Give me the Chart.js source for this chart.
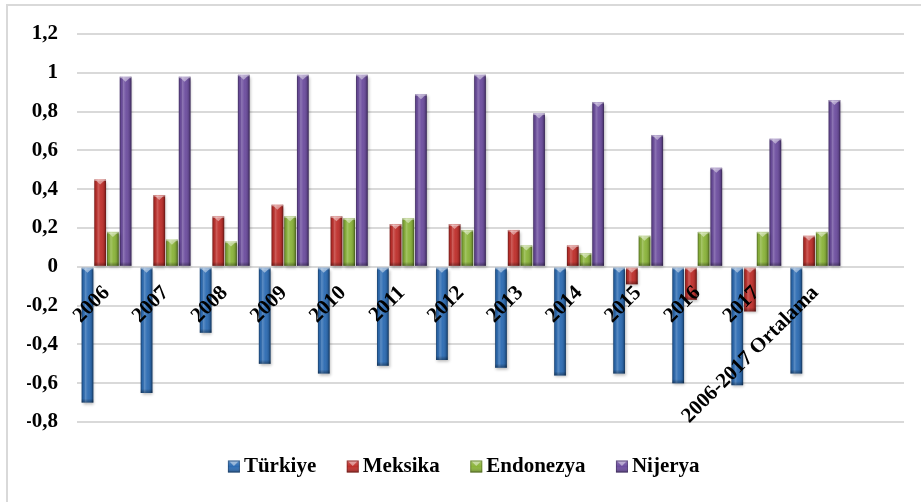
<!DOCTYPE html>
<html>
<head>
<meta charset="utf-8">
<script src="https://cdn.jsdelivr.net/npm/chart.js@4.4.1/dist/chart.umd.min.js"></script>
<style>
  html, body { margin: 0; padding: 0; background: #fff; }
  #wrap { position: relative; width: 921px; height: 502px; overflow: hidden; }
  #frame { position: absolute; left: 6px; top: 4px; width: 960px; height: 540px;
           border-left: 2px solid #d9d9d9; border-top: 2px solid #d9d9d9; }
  #grafik { position: absolute; left: 0; top: 0; }
</style>
</head>
<body>
<div id="wrap">
  <div id="frame"></div>
  <canvas id="grafik" width="921" height="502"></canvas>
</div>
<script>
// categories (the trailing empty one keeps the spare slot on the right)
const yillar = ['2006', '2007', '2008', '2009', '2010', '2011', '2012', '2013',
  '2014', '2015', '2016', '2017', '2006-2017 Ortalama', ''];

const turkiye   = [-0.70, -0.65, -0.34, -0.50, -0.55, -0.51, -0.48, -0.52, -0.56, -0.55, -0.60, -0.61, -0.55];
const meksika   = [0.45, 0.37, 0.26, 0.32, 0.26, 0.22, 0.22, 0.19, 0.11, -0.09, -0.17, -0.23, 0.16];
const endonezya = [0.18, 0.14, 0.13, 0.26, 0.25, 0.25, 0.19, 0.11, 0.07, 0.16, 0.18, 0.18, 0.18];
const nijerya   = [0.98, 0.98, 0.99, 0.99, 0.99, 0.89, 0.99, 0.79, 0.85, 0.68, 0.51, 0.66, 0.86];

const ulkeler = ['Türkiye', 'Meksika', 'Endonezya', 'Nijerya'];
const renkler = ['#2d6cb3', '#bf302c', '#8bb43b', '#6d4e9f'];

const yEtiketleri = ['-0,8', '-0,6', '-0,4', '-0,2', '0', '0,2', '0,4', '0,6', '0,8', '1', '1,2'];

const yazi = { family: 'Liberation Serif', size: 21, weight: 'bold' };

// shaded "glass" look for one bar rectangle
function bevel(c, left, top, w, h) {
  const g = c.createLinearGradient(left, 0, left + w, 0);
  g.addColorStop(0, 'rgba(0,0,0,0.40)');
  g.addColorStop(0.14, 'rgba(0,0,0,0.04)');
  g.addColorStop(0.32, 'rgba(255,255,255,0.22)');
  g.addColorStop(0.55, 'rgba(255,255,255,0.04)');
  g.addColorStop(0.85, 'rgba(0,0,0,0.14)');
  g.addColorStop(1, 'rgba(0,0,0,0.50)');
  c.fillStyle = g;
  c.fillRect(left, top, w, h);

  const gb = c.createLinearGradient(0, top + h - 4, 0, top + h);
  gb.addColorStop(0, 'rgba(0,0,0,0)');
  gb.addColorStop(1, 'rgba(0,0,0,0.35)');
  c.fillStyle = gb;
  c.fillRect(left, top + Math.max(h - 4, 0), w, Math.min(4, h));

  c.fillStyle = 'rgba(255,255,255,0.45)';
  c.fillRect(left, top, w, 1.5);
  c.beginPath();
  c.moveTo(left + 1.5, top + 1);
  c.lineTo(left + w - 1.5, top + 1);
  c.lineTo(left + w / 2, top + Math.min(5, h));
  c.closePath();
  c.fill();
}

// small square legend marker with a soft bevel
function isaret(c, x, y, renk) {
  c.save();
  c.fillStyle = renk;
  c.fillRect(x, y, 12, 12);
  const g = c.createLinearGradient(0, y, 0, y + 12);
  g.addColorStop(0, 'rgba(255,255,255,0.22)');
  g.addColorStop(0.5, 'rgba(255,255,255,0)');
  g.addColorStop(1, 'rgba(0,0,0,0.28)');
  c.fillStyle = g;
  c.fillRect(x, y, 12, 12);
  c.fillStyle = 'rgba(255,255,255,0.45)';
  c.beginPath();
  c.moveTo(x + 1.5, y + 1);
  c.lineTo(x + 10.5, y + 1);
  c.lineTo(x + 6, y + 5.5);
  c.closePath();
  c.fill();
  c.strokeStyle = 'rgba(0,0,0,0.25)';
  c.lineWidth = 1;
  c.strokeRect(x + 0.5, y + 0.5, 11, 11);
  c.restore();
}

const golge = {
  id: 'golge',
  beforeDatasetDraw(chart) {
    const c = chart.ctx;
    c.save();
    c.shadowColor = 'rgba(0,0,0,0.28)';
    c.shadowBlur = 3;
    c.shadowOffsetX = 1;
    c.shadowOffsetY = 2;
  },
  afterDatasetDraw(chart, args) {
    const c = chart.ctx;
    c.restore();
    c.save();
    args.meta.data.forEach(bar => {
      const p = bar.getProps(['x', 'y', 'base', 'width'], true);
      if (p.y == null || isNaN(p.y)) return;
      const top = Math.min(p.y, p.base);
      const h = Math.abs(p.base - p.y);
      bevel(c, p.x - p.width / 2, top, p.width, h);
    });
    c.restore();
  },
  // legend squares sit just left of each legend text
  afterDraw(chart) {
    const kutular = chart.legend.legendHitBoxes || [];
    kutular.forEach((hb, i) => {
      isaret(chart.ctx, hb.left - 3.5, hb.top + hb.height / 2 - 6, renkler[i]);
    });
  }
};

const seriler = [turkiye, meksika, endonezya, nijerya];

new Chart(document.getElementById('grafik'), {
  type: 'bar',
  data: {
    labels: yillar,
    datasets: seriler.map((veri, i) => ({
      label: ulkeler[i],
      data: veri,
      backgroundColor: renkler[i],
      borderWidth: 0,
      categoryPercentage: 0.86,
      barPercentage: 0.92
    }))
  },
  options: {
    responsive: false,
    animation: false,
    layout: { padding: { left: 27, right: 17, top: 34, bottom: 15 } },
    plugins: {
      tooltip: { enabled: false },
      legend: {
        position: 'bottom',
        labels: {
          font: yazi,
          color: '#000',
          boxWidth: 2,
          boxHeight: 12,
          padding: 34,
          generateLabels(chart) {
            return chart.data.datasets.map((ds, i) => ({
              text: ds.label,
              fillStyle: 'rgba(0,0,0,0)',
              strokeStyle: 'rgba(0,0,0,0)',
              lineWidth: 0,
              hidden: false,
              datasetIndex: i,
              fontColor: '#000'
            }));
          }
        }
      }
    },
    scales: {
      x: {
        position: { y: 0 },
        grid: { display: false },
        border: { display: false },
        ticks: {
          z: 1,
          minRotation: 45,
          maxRotation: 45,
          autoSkip: false,
          padding: 6,
          color: '#000',
          font: yazi
        }
      },
      y: {
        min: -0.8,
        max: 1.2,
        border: { display: false },
        grid: { color: '#d9d9d9', lineWidth: 2, drawTicks: false },
        ticks: {
          stepSize: 0.2,
          padding: 19,
          color: '#000',
          font: yazi,
          callback: (v, i) => yEtiketleri[i]
        },
        afterFit(s) { s.width = 50; }
      }
    }
  },
  plugins: [golge]
});
</script>
</body>
</html>
